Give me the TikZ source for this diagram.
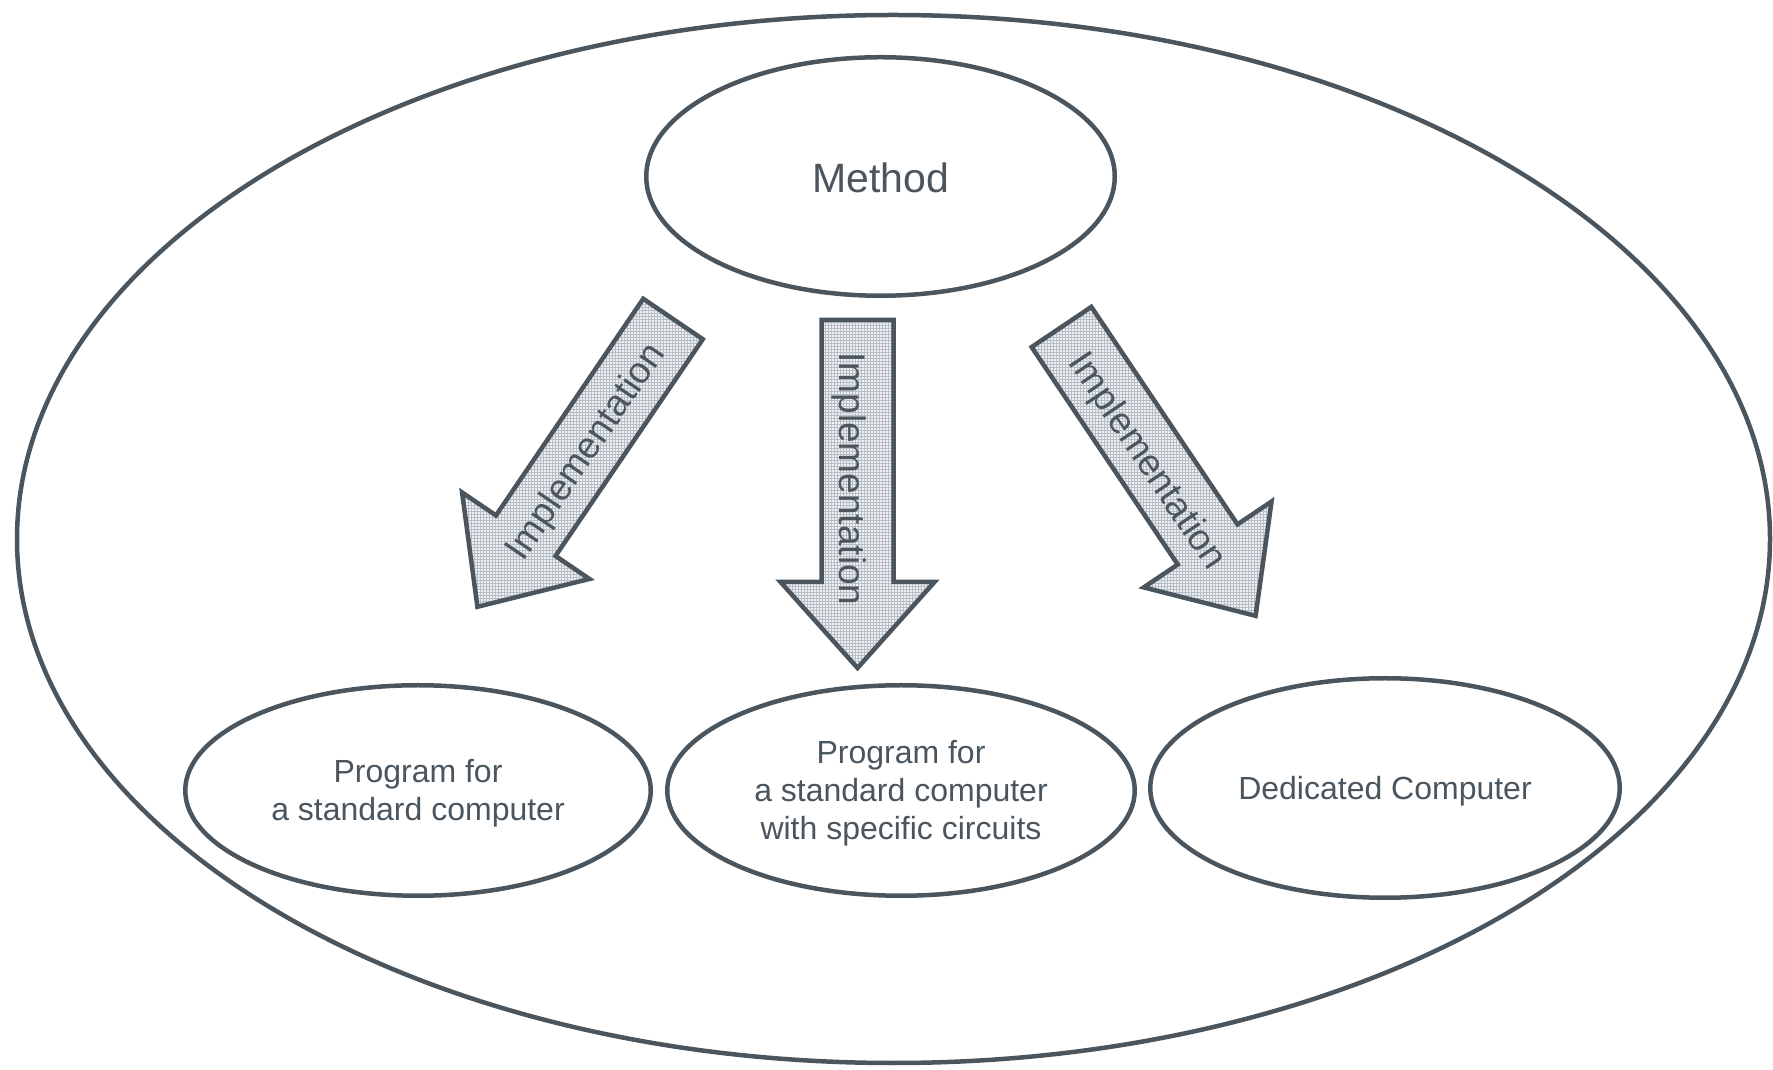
\documentclass[tikz,border=0pt]{standalone}
\usepackage{fontspec}
\setmainfont{Liberation Sans}
\usetikzlibrary{shapes.geometric,patterns}
\definecolor{ink}{RGB}{74,85,94}
\definecolor{arrowfill}{RGB}{238,240,242}
\definecolor{hatch}{RGB}{182,189,196}
% raise the top of the first line so the text sits lower by #1
\newcommand\lowerby[1]{\rule{0pt}{\dimexpr\fontcharht\font`\f+2\dimexpr#1\relax\relax}}
\tikzset{
  outline/.style={draw=ink, line width=4.5pt},
  bubble/.style={outline, ellipse, inner sep=0pt, text=ink, align=center,
    font=\fontsize{32}{38}\selectfont},
  arrowbody/.style={outline, preaction={fill=arrowfill}, pattern=grid, pattern color=hatch},
  arrowtext/.style={text=ink, inner sep=0pt, font=\fontsize{37}{42}\selectfont},
  % block arrow along local +x: tail at origin, tip at 348
  pics/implarrow/.style 2 args={code={
    \path[arrowbody] (0,-36) -- (262,-36) -- (262,-77) -- (348,0)
      -- (262,77) -- (262,36) -- (0,36) -- cycle;
    \node[arrowtext, rotate=#1] (-label) at (159,#2) {Implementation};
  }},
}
\begin{document}
\begin{tikzpicture}[x=1pt, y=1pt]
  \useasboundingbox (0,0) rectangle (1773,1069);

  % enclosing ellipse
  \node[outline, ellipse, inner sep=0pt, minimum width=1753, minimum height=1048]
    (frame) at (893.5,530) {};

  % method
  \node[bubble, minimum width=468.5, minimum height=238.5,
    font=\fontsize{41}{48}\selectfont] (method) at (880.5,892.5) {\lowerby{2.3pt}Method};

  % implementations
  \node[bubble, minimum width=465.5, minimum height=210.5] (prog) at (418,278.5)
    {\lowerby{3.5pt}Program for\\a standard computer};
  \node[bubble, minimum width=467.5, minimum height=210.5] (progc) at (901,278.5)
    {\lowerby{3.5pt}Program for\\a standard computer\\with specific circuits};
  \node[bubble, minimum width=469.5, minimum height=219.5] (dedic) at (1385,281)
    {\lowerby{3.5pt}Dedicated Computer};

  % arrows from method towards each implementation
  \pic[rotate=235.8] (arrowL) at (673,750) {implarrow={55.8}{4}};
  \pic[rotate=-90] (arrowM) at (857.5,749) {implarrow={-90}{-8}};
  \pic[rotate=-56.1] (arrowR) at (1061.5,742) {implarrow={-56.1}{-5}};
\end{tikzpicture}
\end{document}
